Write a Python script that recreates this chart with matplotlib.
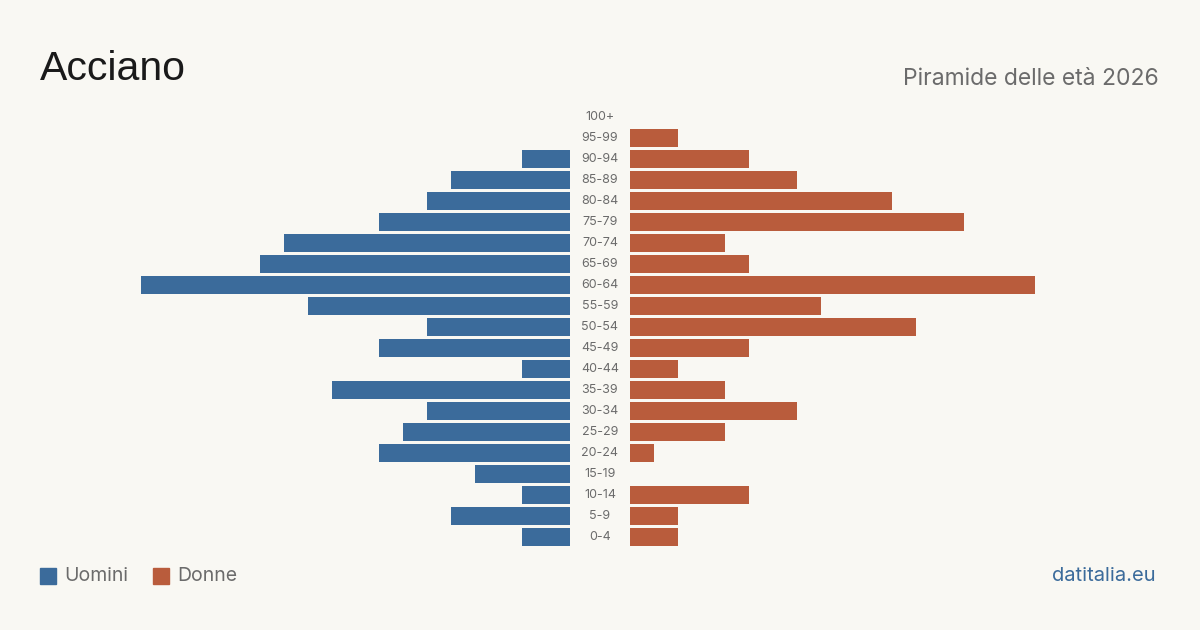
import matplotlib
matplotlib.use("Agg")
import matplotlib.pyplot as plt
from matplotlib.patches import Rectangle

ages = ["0-4", "5-9", "10-14", "15-19", "20-24", "25-29", "30-34", "35-39",
        "40-44", "45-49", "50-54", "55-59", "60-64", "65-69", "70-74",
        "75-79", "80-84", "85-89", "90-94", "95-99", "100+"]
men = [2, 5, 2, 4, 8, 7, 6, 10, 2, 8, 6, 11, 18, 13, 12, 8, 6, 5, 2, 0, 0]
women = [2, 2, 5, 0, 1, 4, 7, 4, 2, 5, 12, 8, 17, 5, 4, 14, 11, 7, 5, 2, 0]

bg = "#f9f8f3"
blue = "#3b6b9b"
orange = "#b95c3c"
gray = "#6b6b6b"

W, H = 1200, 630
fig = plt.figure(figsize=(12, 6.3), dpi=100, facecolor=bg)

xmax = 18
scale = 23.85  # px per person
top_px, bot_px = 106.5, 547.5
yb = 1 - bot_px / H
yh = (bot_px - top_px) / H

axl = fig.add_axes([(570 - xmax * scale) / W, yb, xmax * scale / W, yh])
axr = fig.add_axes([630 / W, yb, xmax * scale / W, yh])
pos = list(range(len(ages)))
axl.barh(pos, men, height=0.81, color=blue)
axr.barh(pos, women, height=0.81, color=orange)
axl.set_xlim(xmax, 0)
axr.set_xlim(0, xmax)
for ax in (axl, axr):
    ax.set_ylim(-0.5, len(ages) - 0.5)
    ax.axis("off")

for i, a in enumerate(ages):
    y = yb + yh * (i + 0.5) / len(ages)
    fig.text(600 / W, y, a, ha="center", va="center", fontsize=9,
             color=gray, family="Inter")

fig.text(40 / W, 1 - 80 / H, "Acciano", fontsize=29.5, color="#1a1a1a",
         family="Liberation Sans", va="baseline")
fig.text(1159 / W, 1 - 85 / H, "Piramide delle età 2026", fontsize=16.5,
         color=gray, family="Inter", ha="right", va="baseline")

fig.patches.append(Rectangle((40 / W, 1 - 584 / H), 16 / W, 16 / H,
                             transform=fig.transFigure, color=blue))
fig.text(64 / W, 1 - 576 / H, "Uomini", fontsize=14, color=gray,
         family="Inter", va="center")
fig.patches.append(Rectangle((153 / W, 1 - 584 / H), 16 / W, 16 / H,
                             transform=fig.transFigure, color=orange))
fig.text(177 / W, 1 - 576 / H, "Donne", fontsize=14, color=gray,
         family="Inter", va="center")
fig.text(1156 / W, 1 - 576 / H, "datitalia.eu", fontsize=14.5, color=blue,
         family="Inter", ha="right", va="center")

fig.savefig("out.png", dpi=100, facecolor=bg)
